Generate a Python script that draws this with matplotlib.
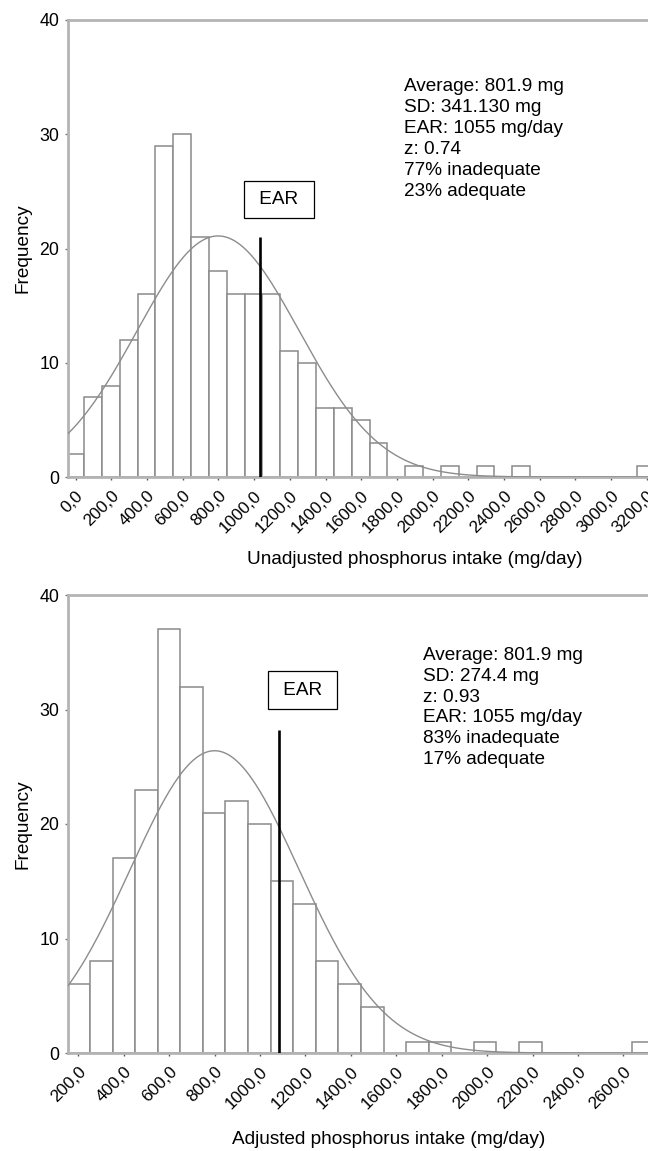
import numpy as np
import matplotlib
matplotlib.use("Agg")
import matplotlib.pyplot as plt

plt.rcParams['font.family'] = ['Liberation Sans', 'DejaVu Sans']
plt.rcParams['font.size'] = 12

# --- unadjusted intake: histogram counts, bins of ~100 mg/day
top_bin_start = -53.5
top_bin_width = 100.0
top_counts = [2, 7, 8, 12, 16, 29, 30, 21, 18, 16, 16, 16, 11, 10, 6, 6, 5, 3,
              0, 1, 0, 1, 0, 1, 0, 1, 0, 0, 0, 0, 0, 0, 1]
top_ticks = list(range(0, 3201, 200))
top_curve = dict(center=798, spread=454, peak=21.1)
top_ear_x, top_ear_top = 1035, 21
top_stats = ["Average: 801.9 mg", "SD: 341.130 mg", "EAR: 1055 mg/day",
             "z: 0.74", "77% inadequate", "23% adequate"]

# --- adjusted intake
bot_bin_start = 152.0
bot_bin_width = 99.4
bot_counts = [6, 8, 17, 23, 37, 32, 21, 22, 20, 15, 13, 8, 6, 4,
              0, 1, 1, 0, 1, 0, 1, 0, 0, 0, 0, 1]
bot_ticks = list(range(200, 2601, 200))
bot_curve = dict(center=800, spread=372, peak=26.4)
bot_ear_x, bot_ear_top = 1085, 28.2
bot_stats = ["Average: 801.9 mg", "SD: 274.4 mg", "z: 0.93",
             "EAR: 1055 mg/day", "83% inadequate", "17% adequate"]

SPINE = '#b4b4b4'
EDGE = '#8a8a8a'
BIG = 13.7


def draw_panel(ax, start, width, counts, ticks, curve, ear_x, ear_top,
               stats, xlim, xlabel, ear_box, stats_pos, xlabel_pos):
    edges = start + width * np.arange(len(counts))
    ax.bar(edges, counts, width=width, align='edge', color='white',
           edgecolor=EDGE, linewidth=1.1, zorder=2)

    xs = np.linspace(xlim[0], xlim[1], 400)
    ys = curve['peak'] * np.exp(-0.5 * ((xs - curve['center']) / curve['spread']) ** 2)
    ax.plot(xs, ys, color='#8c8c8c', linewidth=1.0, zorder=3)

    ax.vlines(ear_x, 0, ear_top, color='black', linewidth=1.9, zorder=4)
    ax.text(ear_box[0], ear_box[1], ' EAR ', ha='center', va='center',
            fontsize=BIG, zorder=5,
            bbox=dict(boxstyle='square,pad=0.54', fc='white', ec='black', lw=0.9))

    ax.text(stats_pos[0], stats_pos[1], '\n'.join(stats), transform=ax.transAxes,
            ha='left', va='top', fontsize=BIG, linespacing=1.3)

    ax.set_xlim(*xlim)
    ax.set_ylim(0, 40)
    ax.set_yticks([0, 10, 20, 30, 40])
    ax.set_xticks(ticks)
    ax.set_xticklabels([f"{t:.1f}".replace('.', ',') for t in ticks],
                       rotation=45, ha='right', va='top', rotation_mode='anchor')
    ax.tick_params(axis='x', length=2.5, width=1, color='#555555', pad=5.5,
                   labelsize=12.3)
    ax.tick_params(axis='y', length=2, width=1, color='#777777', pad=4.5,
                   labelsize=12.8)

    for side in ('left', 'top', 'bottom'):
        ax.spines[side].set_color(SPINE)
        ax.spines[side].set_linewidth(2)
    ax.spines['right'].set_visible(False)

    ax.set_ylabel('Frequency', fontsize=BIG)
    ax.yaxis.set_label_coords(-0.063, 0.5)
    ax.set_xlabel(xlabel, fontsize=BIG)
    ax.xaxis.set_label_coords(*xlabel_pos)


fig = plt.figure(figsize=(6.48, 11.51), dpi=100)
W, H = 648.0, 1151.0

ax1 = fig.add_axes([68.3 / W, 1 - 477 / H, (W - 68.3) / W, (477 - 20) / H])
draw_panel(ax1, top_bin_start, top_bin_width, top_counts, top_ticks, top_curve,
           top_ear_x, top_ear_top, top_stats, (-41.5, 3207),
           'Unadjusted phosphorus intake (mg/day)',
           ear_box=(1137, 24.3), stats_pos=(0.579, 0.873),
           xlabel_pos=(0.597, -0.162))

ax2 = fig.add_axes([68.3 / W, 1 - 1053 / H, (W - 68.3) / W, (1053 - 595) / H])
draw_panel(ax2, bot_bin_start, bot_bin_width, bot_counts, bot_ticks, bot_curve,
           bot_ear_x, bot_ear_top, bot_stats, (156, 2708),
           'Adjusted phosphorus intake (mg/day)',
           ear_box=(1187, 31.7), stats_pos=(0.612, 0.887),
           xlabel_pos=(0.553, -0.170))

fig.savefig('out.png', dpi=100)
